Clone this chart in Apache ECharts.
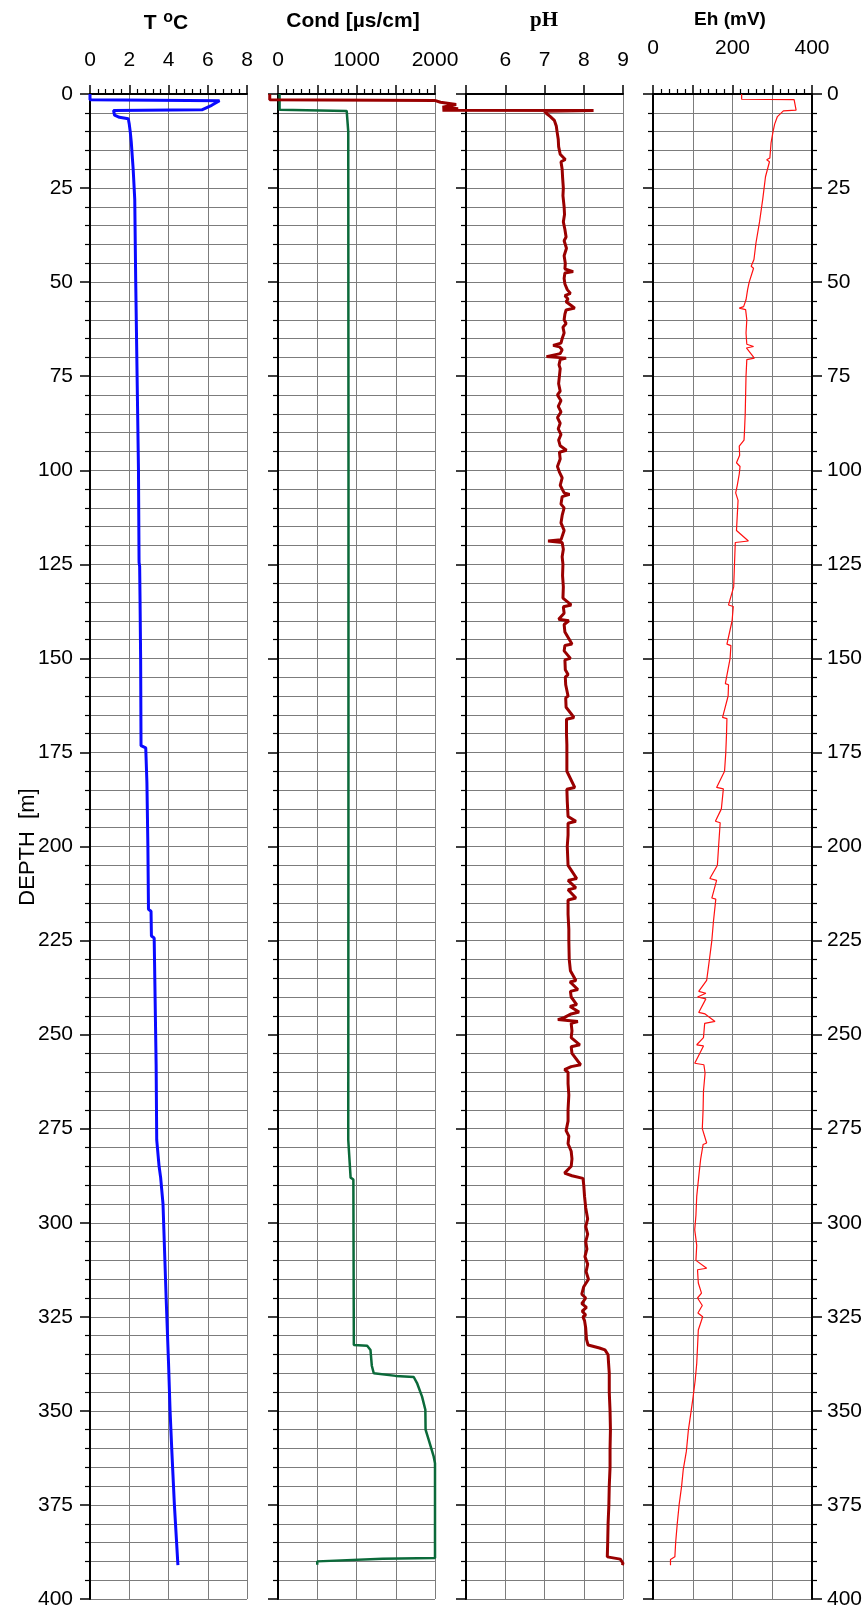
<!DOCTYPE html>
<html><head><meta charset="utf-8">
<script src="https://cdn.jsdelivr.net/npm/echarts@6/dist/echarts.min.js"></script>
<style>html,body{margin:0;padding:0;background:#fff}#c{width:867px;height:1610px}</style>
</head><body><div id="c"></div>
<script>
// ---- data: [depth (m), value] ----
const depthTicks = [0,25,50,75,100,125,150,175,200,225,250,275,300,325,350,375,400];
const tempProfile = [
[0,0],[1.5,0],[1.8,6.6],[3.0,6.2],[4.2,5.7],[4.4,1.2],[5.6,1.25],[6.2,1.5],[6.6,1.95],[8,2.0],[10,2.05],[12.6,2.1],
[20,2.2],[28,2.28],[50,2.33],[75,2.4],[100,2.47],[124.5,2.5],[125.5,2.53],[134.5,2.55],[150,2.58],[173.2,2.6],
[173.8,2.84],[183,2.9],[200,2.95],[216.7,2.98],[217.2,3.11],[223.8,3.13],[224.3,3.27],[258,3.37],[278,3.4],
[278.5,3.49],[285,3.52],[288,3.6],[295,3.72],[320,3.88],[337,4.0],[350,4.08],[360.7,4.17],[375,4.3],[391,4.48]
];
const condProfile = [
[0,20],[4.2,20],[4.5,875],[5,900],[10,895],[100,898],[200,897],[278,895],[278.5,920],[288,925],[288.5,960],
[332.5,966],[332.7,1136],[333.8,1178],[338,1195],[340,1220],[340.7,1500],[341,1729],[342.6,1771],[346.2,1835],
[349.7,1877],[355,1880],[357.7,1920],[362.1,1983],[363.9,2000],[389.1,2000],[389.3,1330],[390,500],[390.9,500]
];
const phProfile = [
[0,0],[1.5,0],[1.7,4.2],[2.2,4.35],[2.8,4.75],[3.5,4.4],[3.9,4.8],[4.3,4.4],[4.4,8.25],[4.6,7.0],[5.2,7.05],[6,7.15],
[7,7.25],[8.5,7.3],[10,7.32],[12,7.35],[14,7.36],[16,7.4],[17.4,7.53],[18,7.42],[20,7.45],[22,7.46],[25,7.48],
[27,7.47],[30,7.5],[32,7.51],[34,7.48],[36,7.52],[38,7.55],[39,7.5],[41,7.56],[43,7.5],[45,7.53],[46.5,7.52],
[47.2,7.73],[47.6,7.52],[49,7.5],[50.5,7.52],[52,7.58],[53,7.66],[53.6,7.52],[54.5,7.6],[55.2,7.55],[56.2,7.68],
[56.9,7.77],[57.4,7.55],[58.5,7.52],[60,7.5],[61,7.55],[62,7.47],[63.5,7.5],[65,7.45],[66.2,7.42],[66.8,7.22],
[67.2,7.38],[68,7.45],[69,7.4],[69.8,7.05],[70.2,7.55],[70.6,7.4],[72,7.37],[73,7.4],[75,7.38],[77,7.36],[79,7.4],
[80,7.33],[81.5,7.42],[83,7.35],[84.5,7.42],[86,7.33],[87.5,7.4],[89,7.35],[90.5,7.42],[92,7.36],[93.5,7.4],
[94.7,7.56],[95.2,7.38],[97,7.4],[99,7.33],[100.5,7.38],[102,7.45],[104,7.4],[106,7.5],[106.4,7.64],[107,7.45],
[109,7.42],[110,7.5],[112,7.45],[114,7.42],[116,7.5],[118.5,7.42],[118.8,7.09],[119.2,7.45],[121,7.48],[123,7.45],
[125,7.47],[128,7.46],[131,7.48],[134,7.47],[135.8,7.68],[136.3,7.48],[138,7.5],[139.6,7.36],[140,7.62],[141,7.5],
[143,7.52],[146.2,7.7],[146.6,7.52],[148,7.5],[150,7.66],[150.4,7.52],[153,7.53],[154.3,7.6],[155,7.53],[157,7.54],
[160,7.6],[160.5,7.54],[163,7.55],[165.7,7.75],[166.2,7.56],[170,7.56],[173,7.57],[175,7.57],[180,7.57],[184.3,7.77],
[184.8,7.57],[188,7.58],[192,7.6],[193.3,7.8],[193.8,7.6],[197,7.6],[200,7.58],[205,7.6],[208.5,7.82],[209,7.6],
[211,7.8],[211.5,7.6],[213.7,7.8],[214.2,7.6],[218,7.6],[222,7.62],[225,7.62],[230,7.63],[233,7.66],[235.6,7.8],
[236,7.65],[238,7.85],[238.5,7.66],[240,7.68],[242,7.82],[242.5,7.65],[244,7.88],[244.5,7.68],[245.5,7.5],[246,7.34],
[246.5,7.85],[247,7.68],[249,7.7],[250.8,7.68],[252.7,7.9],[253.2,7.68],[255,7.7],[258,7.92],[258.5,7.68],[259.3,7.51],
[260,7.6],[263,7.6],[266,7.62],[270,7.6],[273,7.6],[275.5,7.55],[277,7.62],[279,7.6],[281,7.68],[283,7.7],[285,7.68],
[286.8,7.51],[287.5,7.7],[288.2,7.98],[290,8.0],[293,8.02],[296,8.05],[299,8.1],[301,8.05],[303,8.1],[305,8.05],
[307,8.08],[309,8.03],[311,8.1],[313,8.06],[315,8.12],[317,8.0],[319,7.95],[320,8.05],[321.5,7.95],[322.5,8.07],
[323.5,7.96],[324.5,8.05],[325,7.98],[326,8.02],[328,8.05],[331,8.07],[332.5,8.11],[333.3,8.4],[333.8,8.54],
[335.1,8.62],[337,8.63],[340,8.65],[345,8.65],[350,8.67],[355,8.68],[360,8.67],[365,8.67],[370,8.65],[375,8.64],
[380,8.62],[385,8.61],[388.8,8.6],[389.4,8.93],[390.5,9.0],[391,8.98]
];
const ehProfile = [
[0,223],[1.4,223],[1.5,355],[4.3,360],[4.5,328],[6,313],[8,306],[10,302],[13,297],[17,294],[17.5,286],[18,293],
[22,283],[28,276],[34,268],[39.6,259],[44,254],[45.8,247],[46.3,253],[50,242],[52,238],[54.7,234],[56.5,228],
[56.9,217],[57.3,233],[60,236],[63.5,234],[66.5,236],[67.1,253],[67.5,235],[70.2,255],[70.6,236],[75,234],[80,233],
[85,232],[90,230],[92,229],[93.6,217],[96,218],[98,210],[99,219],[101,217],[104,212],[106,208],[108,214],[112,212],
[116,210],[118.8,240],[119.2,207],[125,205],[131,203],[135.8,190],[136.2,202],[140,199],[146.2,186],[146.6,196],
[150,194],[156.7,182],[157,190],[160,189],[165.7,175],[166,186],[170,185],[175.2,183],[180,180],[184.3,160],
[184.7,177],[190,172],[193.3,157],[193.7,169],[200,165],[205,162],[208.5,143],[209,160],[213.7,148],[214,158],
[220,152],[225,148],[230,142],[235.6,135],[238.5,115],[239,133],[240,112],[240.5,133],[244.1,115],[244.5,131],
[246.5,156],[247,130],[250.8,127],[252.7,110],[253,127],[257.6,105],[258,128],[260.2,131],[265,127],[270,126],
[275,124],[278.8,135],[279.2,126],[283,120],[286.8,116],[293,110],[298,108],[301.9,105],[306,110],[310,108],
[312.1,135],[312.5,112],[316,114],[318.7,122],[320,112],[322,124],[324,113],[325,125],[328.5,114],[333,112],
[337.4,110],[342,106],[346.2,101],[350,96],[355.1,89],[360.7,84],[365.7,76],[370,72],[374.7,66],[380,61],[385,57],
[388.8,55],[389.5,44],[391,44]
];

// ---- chart ----
const FONT = 'Liberation Sans, Arial, sans-serif';
const GRID_C = '#7c7c7c';
const TOP = 94, H = 1505;
const PH_LEFT = 466, PH_W = 157, PH_MIN = 5, PH_MAX = 9;
const phPx = PH_W / (PH_MAX - PH_MIN);
const panels = [{left:90,width:157},{left:278,width:157},{left:PH_LEFT,width:PH_W},{left:653,width:159},
  // hidden carrier grid for the pH curve: same pH scale, extended down to pH 0 so the surface reading shows
  {left:PH_LEFT - PH_MIN*phPx, width:PH_MAX*phPx}];

function xAx(i, min, max, interval, minor, labelFn, margin){
  return {
    gridIndex:i, type:'value', position:'top', min:min, max:max, interval:interval,
    axisLine:{show:true,onZero:false,lineStyle:{color:'#000',width:2}},
    axisTick:{show:true,inside:false,length:9,lineStyle:{color:'#000',width:1.5}},
    minorTick:{show:minor>0,splitNumber:minor||5,length:5,lineStyle:{color:'#000',width:1.2}},
    splitLine:{show:true,lineStyle:{color:GRID_C,width:1}},
    axisLabel:{show:true,fontSize:21,color:'#000',fontFamily:FONT,margin:margin,formatter:labelFn,hideOverlap:false,showMinLabel:true,showMaxLabel:true}
  };
}
function yAx(i, showLabel, pos, split){
  return {
    gridIndex:i, type:'value', inverse:true, min:0, max:400, interval:25, position:pos,
    axisLine:{show:true,onZero:false,lineStyle:{color:'#000',width:2}},
    axisTick:{show:true,inside:false,length:10,lineStyle:{color:'#000',width:1.5}},
    minorTick:{show:true,splitNumber:5,length:5,lineStyle:{color:'#000',width:1.2}},
    splitLine:{show:split,lineStyle:{color:GRID_C,width:1}},
    minorSplitLine:{show:split,lineStyle:{color:GRID_C,width:1}},
    axisLabel:{show:showLabel,fontSize:21,color:'#000',fontFamily:FONT,margin:pos==='left'?17:15,
      formatter:v=>depthTicks.includes(v)?String(v):''}
  };
}
const hiddenAxis = {show:false,axisLine:{show:false},axisTick:{show:false},axisLabel:{show:false},splitLine:{show:false}};

const chart = echarts.init(document.getElementById('c'), null, {renderer:'canvas'});
chart.setOption({
  backgroundColor:'#fff',
  animation:false,
  grid: panels.map(p=>({left:p.left,width:p.width,top:TOP,height:H,containLabel:false})),
  xAxis:[
    xAx(0,0,8,2,5,v=>String(v),23),
    xAx(1,0,2000,500,5,v=>(v%1000===0?String(v):''),23),
    xAx(2,PH_MIN,PH_MAX,1,0,v=>(v===5?'':String(v)),23),
    xAx(3,0,400,100,5,v=>(v%200===0?String(v):''),35),
    Object.assign({gridIndex:4,type:'value',position:'top',min:0,max:PH_MAX,interval:1}, hiddenAxis)
  ],
  yAxis:[
    yAx(0,true,'left',true),
    yAx(1,false,'left',true),
    yAx(2,false,'left',true),
    yAx(3,false,'left',true),
    yAx(3,true,'right',false),
    Object.assign({gridIndex:4,type:'value',inverse:true,min:0,max:400,interval:25}, hiddenAxis)
  ],
  series:[
    {type:'line',xAxisIndex:0,yAxisIndex:0,showSymbol:false,symbol:'none',data:tempProfile.map(r=>[r[1],r[0]]),
      lineStyle:{color:'#0a0aff',width:3},z:5},
    {type:'line',xAxisIndex:1,yAxisIndex:1,showSymbol:false,symbol:'none',data:condProfile.map(r=>[r[1],r[0]]),
      lineStyle:{color:'#0b6a3a',width:2.5},z:5},
    {type:'line',xAxisIndex:4,yAxisIndex:5,showSymbol:false,symbol:'none',data:phProfile.map(r=>[r[1],r[0]]),
      lineStyle:{color:'#990000',width:3},z:6},
    {type:'line',xAxisIndex:3,yAxisIndex:3,showSymbol:false,symbol:'none',data:ehProfile.map(r=>[r[1],r[0]]),
      lineStyle:{color:'#ff1010',width:1.2},z:5}
  ],
  graphic:[
    {type:'text',x:166,y:22,style:{text:'{t|T}  {s|o}{t|C}',align:'center',verticalAlign:'middle',
      rich:{t:{fontSize:21,fontWeight:'bold',fontFamily:FONT,fill:'#000',lineHeight:24,verticalAlign:'bottom'},
            s:{fontSize:16,fontWeight:'bold',fontFamily:FONT,fill:'#000',lineHeight:24,verticalAlign:'top'}}}},
    {type:'text',x:353,y:21,style:{text:'Cond [µs/cm]',align:'center',verticalAlign:'middle',fontSize:21,fontWeight:'bold',fontFamily:FONT,fill:'#000'}},
    {type:'text',x:544,y:21,style:{text:'pH',align:'center',verticalAlign:'middle',fontSize:21,fontWeight:'bold',fontFamily:'Liberation Serif, Times New Roman, serif',fill:'#000'}},
    {type:'text',x:730,y:20,style:{text:'Eh (mV)',align:'center',verticalAlign:'middle',fontSize:19,fontWeight:'bold',fontFamily:FONT,fill:'#000'}},
    {type:'text',x:28,y:847,rotation:Math.PI/2,style:{text:'DEPTH  [m]',align:'center',verticalAlign:'middle',fontSize:22,fontFamily:FONT,fill:'#000'}}
  ]
});
</script></body></html>
